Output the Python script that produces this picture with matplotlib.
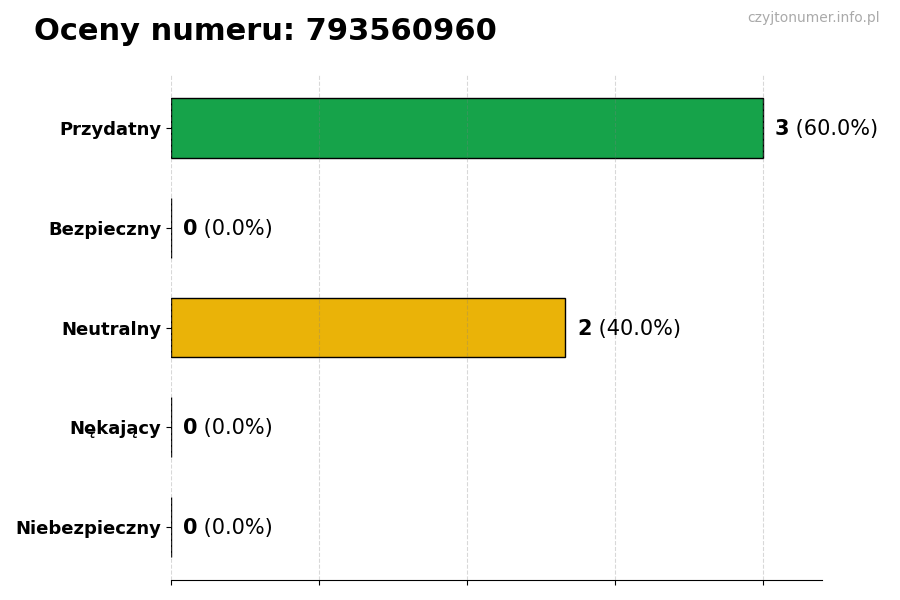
import matplotlib
matplotlib.use("Agg")
import matplotlib.pyplot as plt

categories = ["Przydatny", "Bezpieczny", "Neutralny", "Nękający", "Niebezpieczny"]
values = [3, 0, 2, 0, 0]
colors = ["#16a34a", "#22c55e", "#eab308", "#f97316", "#dc2626"]
title = "Oceny numeru: 793560960"
watermark = "czyjtonumer.info.pl"

total = sum(values)

fig = plt.figure(figsize=(9, 6), dpi=100)
ax = fig.add_axes([0.19, 0.0333, 0.723, 0.8417])

ypos = list(range(len(categories)))[::-1]
ax.barh(ypos, values, height=0.6, color=colors, edgecolor="black", linewidth=1, zorder=2)

vmax = max(values)
ax.set_xlim(0, vmax * 1.1)
ax.set_xticks([vmax * i / 4 for i in range(5)])
ax.set_xticklabels([])
ax.set_yticks(ypos)
ax.set_yticklabels(categories, fontsize=13, fontweight="bold")
ax.grid(axis="x", linestyle="--", color="gray", alpha=0.3, linewidth=0.8, zorder=3)
ax.set_axisbelow(False)
for s in ["top", "right", "left"]:
    ax.spines[s].set_visible(False)

for y, v in zip(ypos, values):
    pct = v / total * 100 if total else 0
    t = ax.text(v + vmax * 0.02, y - 0.01, f"{v}", fontsize=15, fontweight="bold",
                va="center", ha="left", zorder=4)
    ax.annotate(f" ({pct:.1f}%)", xy=(1, 0), xycoords=t, fontsize=15,
                va="bottom", ha="left", zorder=4)

fig.text(0.038, 0.947, title, fontsize=22, fontweight="bold", ha="left", va="center")
fig.text(0.978, 0.97, watermark, fontsize=10, color="#aaaaaa", ha="right", va="center")

fig.savefig("out.png", dpi=100)
